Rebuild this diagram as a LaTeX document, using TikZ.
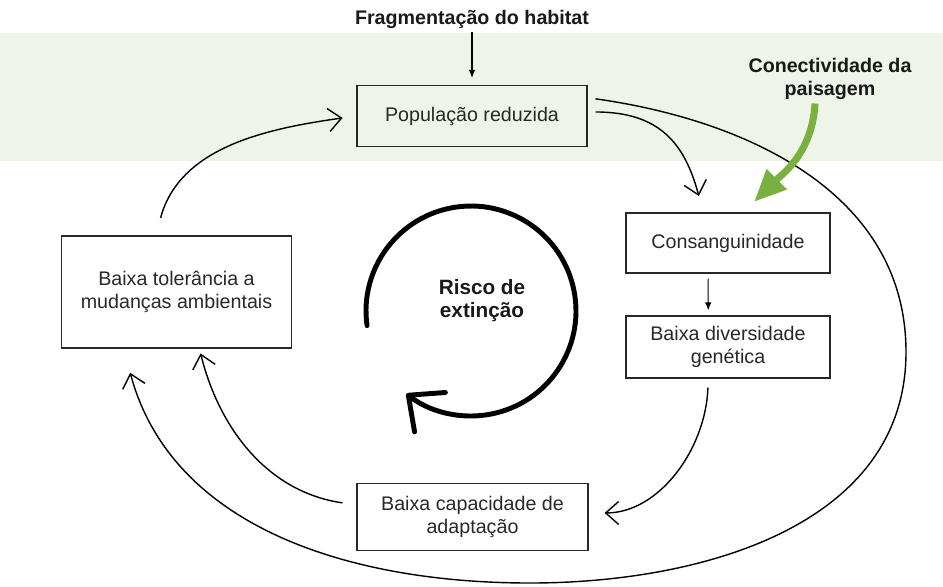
\documentclass[tikz,border=0pt]{standalone}
\usepackage{fontspec}
\setmainfont{Liberation Sans}
\usetikzlibrary{arrows.meta,calc}
\definecolor{bandgreen}{RGB}{238,244,232}
\definecolor{leafgreen}{RGB}{122,176,64}
\definecolor{inkgray}{RGB}{40,40,40}

\begin{document}
\begin{tikzpicture}[x=0.02cm, y=0.02cm,
  box/.style ={draw=inkgray, line width=0.7pt, inner sep=0pt, align=center,
               font=\fontsize{11.2}{13.5}\selectfont, text=inkgray},
  lbl/.style ={font=\fontsize{11.2}{13}\selectfont\bfseries, align=center,
               inner sep=2pt, text=black!90},
  arr/.style ={-{Straight Barb[length=2.6mm,width=4.6mm]}, line width=0.8pt},
  sarr/.style={-{Latex[length=1.6mm,width=1.3mm]}, line width=0.6pt},
  cyc/.style ={-{Straight Barb[length=5.5mm,width=10mm,round]},
               line width=2.8pt, line cap=round},
  garr/.style={-{Triangle[length=6.4mm,width=5.4mm]}, line width=4pt,
               color=leafgreen}
]
  \useasboundingbox (0,0) rectangle (943,-586);

  %% ── Background band ────────────────────────────────────────────────────
  \fill[bandgreen] (0,-33) rectangle (943,-161);

  %% ── Labels ─────────────────────────────────────────────────────────────
  \node[lbl] (frag) at (472,-19)  {Fragmentação do habitat};
  \node[lbl] (con)  at (830,-79)  {Conectividade da\\paisagem};
  \node[lbl, font=\fontsize{11.8}{13}\selectfont\bfseries]
             (risk) at (482,-301) {Risco de\\extinção};

  %% ── Boxes ──────────────────────────────────────────────────────────────
  \node[box, minimum width=4.6cm,  minimum height=1.22cm]
        (pop)  at (472,-116)   {População reduzida};
  \node[box, minimum width=4.08cm, minimum height=1.2cm]
        (cons) at (728,-243)   {Consanguinidade};
  \node[box, minimum width=4.08cm, minimum height=1.24cm]
        (div)  at (728,-347)   {Baixa diversidade\\genética};
  \node[box, minimum width=4.6cm,  minimum height=2.24cm]
        (tol)  at (176.5,-292) {Baixa tolerância a\\mudanças ambientais};
  \node[box, minimum width=4.62cm, minimum height=1.34cm]
        (cap)  at (472.5,-517) {Baixa capacidade de\\adaptação};

  %% ── Central cycle ──────────────────────────────────────────────────────
  \coordinate (hub) at (471,-311);
  \draw[cyc] (hub) ++(188:2.1cm) arc[start angle=188, end angle=-128, radius=2.1cm];

  %% ── Straight inputs ────────────────────────────────────────────────────
  \draw[sarr, shorten >=0.14cm] (frag) -- (pop);
  \draw[sarr, shorten <=0.1cm, shorten >=0.1cm] (cons.237) -- (div.122);

  %% ── Feedback loop ──────────────────────────────────────────────────────
  \draw[arr, shorten <=0.16cm, shorten >=0.34cm]
    (pop.2) to[out=0, in=105, looseness=1.2] (cons.129);
  \draw[arr, shorten <=0.18cm, shorten >=0.32cm]
    (div.238) to[out=-92, in=0] (cap.2);
  \draw[arr, shorten <=0.28cm, shorten >=0.1cm]
    (cap.174) to[out=172, in=-76] (tol.292);
  \draw[arr, shorten <=0.36cm, shorten >=0.28cm]
    (tol.110) to[out=75, in=188] (pop.west);

  %% ── Outer loop: population straight back to tolerance ──────────────────
  \draw[arr, shorten <=0.16cm, shorten >=0.5cm]
    (pop.9) to[out=-8, in=90] (906,-352)
            to[out=-90, in=0] (530,-583)
            to[out=180, in=-75] (tol.227);

  %% ── Landscape connectivity ─────────────────────────────────────────────
  \draw[garr, shorten >=0.3cm]
    ($(con.south)+(-15,0)$) to[out=-93, in=45] (cons.63);

\end{tikzpicture}
\end{document}
